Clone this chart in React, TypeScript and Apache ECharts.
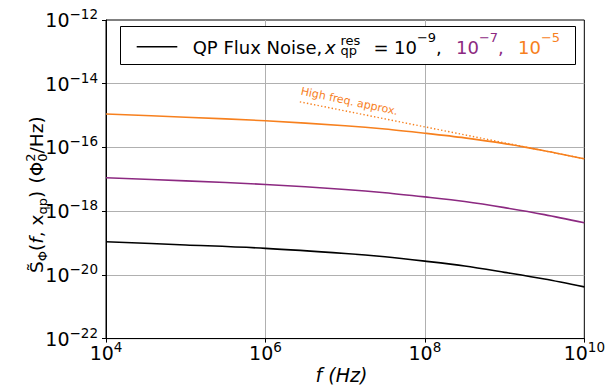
import React, { useEffect, useRef } from 'react';
import * as echarts from 'echarts';

const FONT = 'DejaVu Sans';
const BLACK = '#000000';
const PURPLE = '#8c2981';
const ORANGE = '#f7801e';

// Frequencies (Hz)
const FREQ_HZ = [1e4, 1e5, 1e6, 1e7, 3.16e7, 1e8, 3.16e8, 1e9, 3.16e9, 1e10];
// QP flux noise for x_qp^res = 1e-9, 1e-7, 1e-5 (Phi0^2/Hz)
const S_XQP_1E9 = [1.1e-19, 8.7e-20, 6.8e-20, 4.7e-20, 3.7e-20, 2.7e-20, 1.9e-20, 1.2e-20, 7.4e-21, 4.2e-21];
const S_XQP_1E7 = [1.12e-17, 8.9e-18, 6.9e-18, 4.8e-18, 3.8e-18, 2.8e-18, 2.0e-18, 1.29e-18, 7.8e-19, 4.3e-19];
const S_XQP_1E5 = [1.12e-15, 8.9e-16, 6.9e-16, 4.8e-16, 3.8e-16, 2.8e-16, 2.0e-16, 1.32e-16, 7.9e-17, 4.4e-17];
// High-frequency approximation (dotted)
const HF_FREQ_HZ = [2.7e6, 1e10];
const HF_VALUE = [2.7e-15, 4.4e-17];

// Axis range as decades (log10) with ticks every 2 decades
const X_DECADE_MIN = 4;
const X_DECADE_MAX = 10;
const Y_DECADE_MIN = -22;
const Y_DECADE_MAX = -12;
const DECADE_STEP = 2;

type Piece = { t: string; s?: number; it?: boolean; c?: string; base?: number; at?: number; lh?: number; cy?: number };

let ctx2d: CanvasRenderingContext2D | null = null;
function measure(text: string, size: number, italic?: boolean): number {
  if (!ctx2d) ctx2d = document.createElement('canvas').getContext('2d');
  if (!ctx2d) return text.length * size * 0.6;
  ctx2d.font = `${italic ? 'italic ' : ''}${size}px "${FONT}"`;
  return Math.max(...text.split('\n').map((l) => ctx2d!.measureText(l).width));
}

function flow(pieces: Piece[], size: number, baseline: number, color: string, startX: number) {
  let cursor = startX;
  const els: any[] = [];
  for (const p of pieces) {
    const s = p.s ?? size;
    const x = p.at ?? cursor;
    const b = p.base ?? baseline;
    const w = measure(p.t, s, p.it);
    const style: any = {
      text: p.t,
      fill: p.c ?? color,
      fontSize: s,
      fontFamily: FONT,
      fontStyle: p.it ? 'italic' : 'normal',
      align: 'left',
      verticalAlign: 'middle',
      textAlign: 'left',
      textVerticalAlign: 'middle',
    };
    if (p.lh) style.lineHeight = p.lh;
    els.push({ type: 'text', x, y: p.cy ?? b - 0.346 * s, z: 100, style });
    cursor = x + w;
  }
  return { els, width: cursor - startX };
}

function expLabel(e: number) {
  const r = Math.round(e);
  return `{b|10}{s|${r < 0 ? '\u2212' : ''}${Math.abs(r)}}`;
}

const labelRich = {
  b: { fontSize: 19, lineHeight: 26, color: '#000', fontFamily: FONT },
  s: { fontSize: 13.5, lineHeight: 14, verticalAlign: 'top', color: '#000', fontFamily: FONT },
};

const lg = (v: number) => Math.log10(v);

export default function App() {
  const ref = useRef<HTMLDivElement>(null);
  useEffect(() => {
    if (!ref.current) return;
    const chart = echarts.init(ref.current, undefined, { renderer: 'svg' });

    // Legend text
    const LB = 53.3;
    const legendPieces: Piece[] = [
      { t: 'QP Flux Noise,', at: 192.7 },
      { t: 'x', it: true, at: 325 },
      // stacked superscript "res" over subscript "qp"
      { t: 'res\nqp', s: 13, at: 340.5, lh: 9.5, cy: 45.3 },
      { t: '=', at: 373.5 },
      { t: '10', at: 394 },
      { t: '\u22129', s: 13, base: 42.3 },
      { t: ',' },
      { t: '10', c: PURPLE, at: 456 },
      { t: '\u22127', s: 13, base: 42.3, c: PURPLE },
      { t: ',', c: PURPLE },
      { t: '10', c: ORANGE, at: 518 },
      { t: '\u22125', s: 13, base: 42.3, c: ORANGE },
    ];
    const legend = flow(legendPieces, 18, LB, BLACK, 192.7);

    // Y axis title (rotated, reads bottom to top)
    const ySize = 18.5;
    const yPieces: Piece[] = [
      { t: 'S\u0303' },
      { t: '\u03a6', s: 13, base: 4 },
      { t: '(' },
      { t: 'f', it: true },
      { t: ', x' },
      { t: 'qp', s: 13, base: 4 },
      { t: ')\u2009\u2009(' },
      { t: '\u03a6' },
      // stacked superscript "2" over subscript "0"
      { t: '2\n0', s: 13, lh: 12, cy: -4.5 - 2 },
      { t: '/Hz)' },
    ];
    const yT = flow(yPieces, ySize, 0, BLACK, 0);

    const axisCommon = {
      type: 'value',
      interval: DECADE_STEP,
      axisLine: { show: true, onZero: false, lineStyle: { color: '#000', width: 1 } },
      axisTick: { show: true, length: 4, lineStyle: { color: '#000', width: 1 } },
      splitLine: { show: true, showMinLine: false, showMaxLine: false, lineStyle: { color: '#b0b0b0', width: 1 } },
    };

    const option: any = {
      animation: false,
      textStyle: { fontFamily: FONT },
      grid: {
        left: 106,
        right: 23,
        top: 20,
        bottom: 48.4,
        show: true,
        borderColor: '#000',
        borderWidth: 1,
        backgroundColor: 'transparent',
        containLabel: false,
      },
      xAxis: {
        ...axisCommon,
        min: X_DECADE_MIN,
        max: X_DECADE_MAX,
        axisLabel: { formatter: expLabel, rich: labelRich, margin: 1, color: '#000' },
      },
      yAxis: {
        ...axisCommon,
        min: Y_DECADE_MIN,
        max: Y_DECADE_MAX,
        axisLabel: { formatter: expLabel, rich: labelRich, margin: 8, color: '#000' },
      },
      series: [
        {
          type: 'line',
          name: 'x=1e-9',
          data: FREQ_HZ.map((f, i) => [lg(f), lg(S_XQP_1E9[i])]),
          showSymbol: false,
          smooth: 0.3,
          lineStyle: { color: BLACK, width: 1.6 },
          z: 3,
        },
        {
          type: 'line',
          name: 'x=1e-7',
          data: FREQ_HZ.map((f, i) => [lg(f), lg(S_XQP_1E7[i])]),
          showSymbol: false,
          smooth: 0.3,
          lineStyle: { color: PURPLE, width: 1.6 },
          z: 3,
        },
        {
          type: 'line',
          name: 'x=1e-5',
          data: FREQ_HZ.map((f, i) => [lg(f), lg(S_XQP_1E5[i])]),
          showSymbol: false,
          smooth: 0.3,
          lineStyle: { color: ORANGE, width: 1.6 },
          z: 3,
        },
        {
          type: 'line',
          name: 'High freq. approx.',
          data: HF_FREQ_HZ.map((f, i) => [lg(f), lg(HF_VALUE[i])]),
          showSymbol: false,
          lineStyle: { color: ORANGE, width: 1.4, type: [1.4, 2.2] },
          z: 3,
        },
      ],
      graphic: [
        {
          type: 'rect',
          z: 99,
          shape: { x: 120.5, y: 26.5, width: 455, height: 38 },
          style: { fill: '#fff', stroke: '#000', lineWidth: 1 },
        },
        {
          type: 'line',
          z: 100,
          shape: { x1: 136.7, y1: 46.7, x2: 177.3, y2: 46.7 },
          style: { stroke: BLACK, lineWidth: 1.6 },
        },
        ...legend.els,
        {
          type: 'group',
          x: 43,
          y: 273,
          rotation: Math.PI / 2,
          children: yT.els,
        },
        {
          type: 'text',
          x: 341.5,
          y: 375,
          z: 100,
          style: {
            text: 'f (Hz)',
            fill: '#000',
            fontSize: 19,
            fontFamily: FONT,
            fontStyle: 'italic',
            align: 'center',
            verticalAlign: 'middle',
            textAlign: 'center',
            textVerticalAlign: 'middle',
          },
        },
        {
          type: 'text',
          x: 301,
          y: 91,
          z: 100,
          rotation: -0.21,
          style: {
            text: 'High freq. approx.',
            fill: ORANGE,
            fontSize: 11,
            fontFamily: FONT,
            align: 'left',
            verticalAlign: 'middle',
            textAlign: 'left',
            textVerticalAlign: 'middle',
          },
        },
      ],
    };
    chart.setOption(option);
    return () => chart.dispose();
  }, []);
  return (
    <div
      ref={ref}
      style={{ position: 'fixed', left: 0, top: 0, width: 608, height: 387, background: '#fff' }}
    />
  );
}
